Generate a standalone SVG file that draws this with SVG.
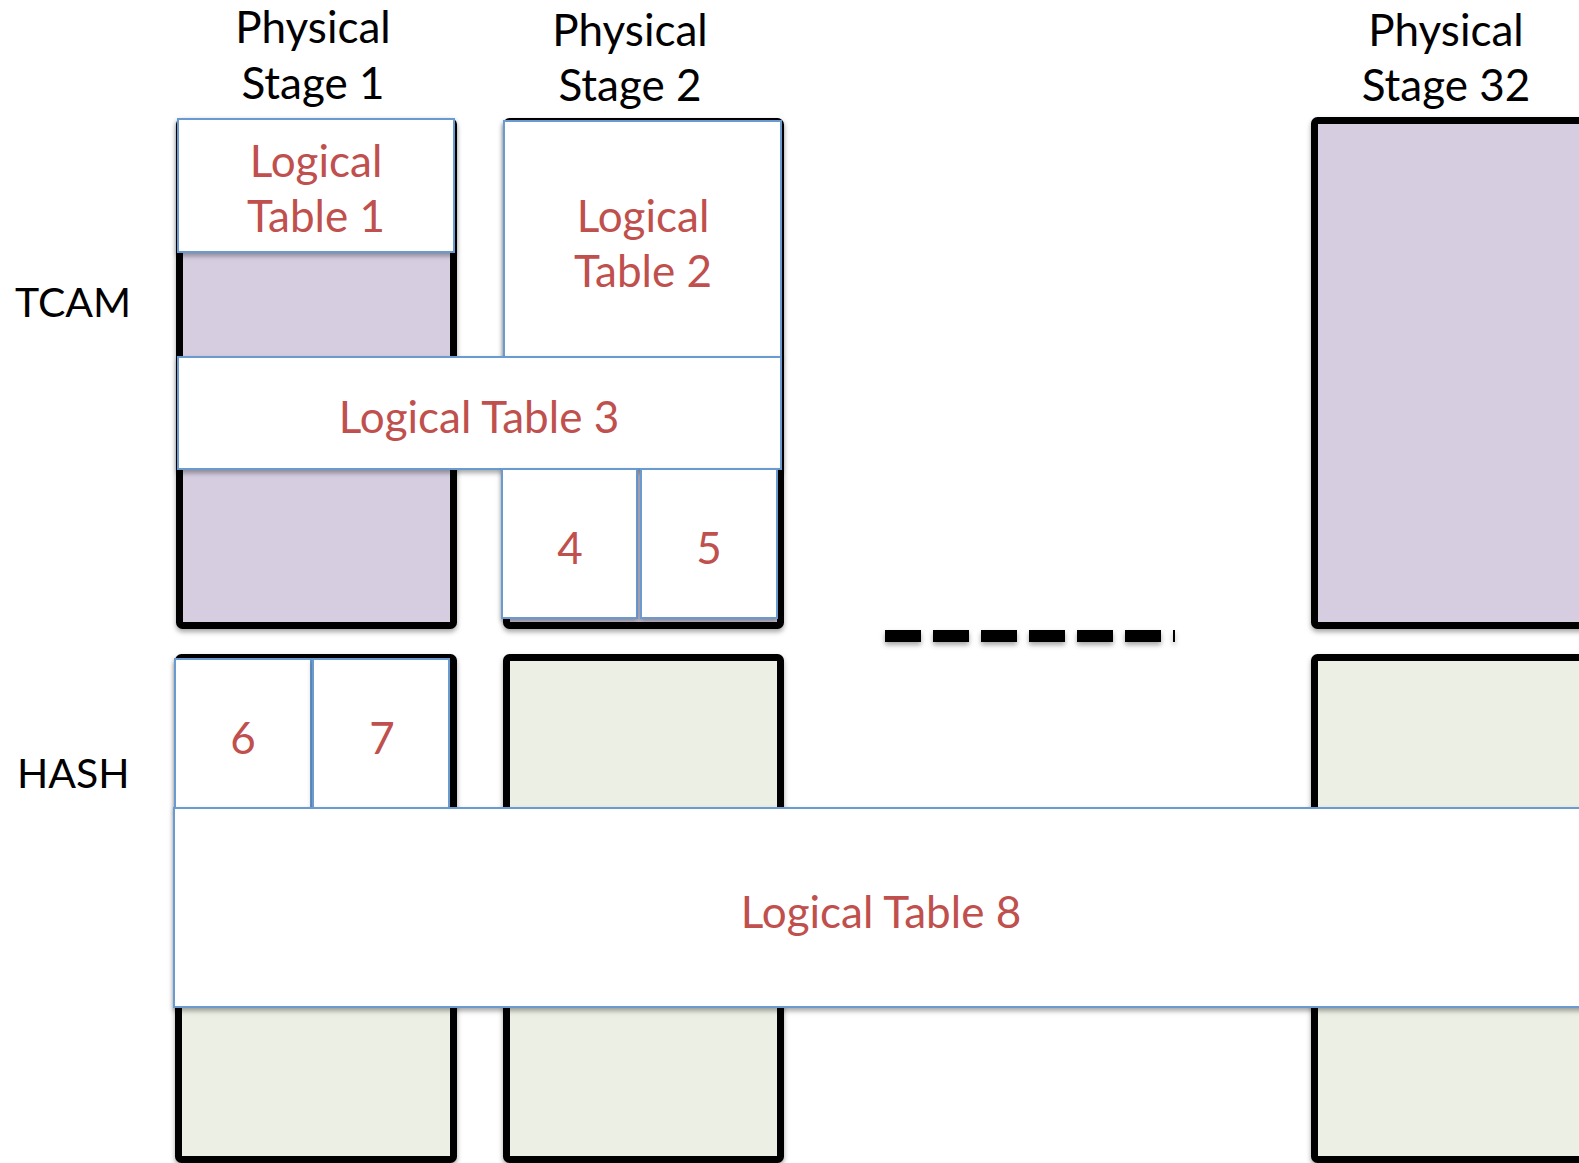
<svg xmlns="http://www.w3.org/2000/svg" width="1579" height="1163" viewBox="0 0 1579 1163">
<defs>
<filter id="sh" x="-5%" y="-5%" width="110%" height="115%">
<feDropShadow dx="0" dy="3" stdDeviation="2.5" flood-color="#000" flood-opacity="0.35"/>
</filter>
<filter id="shu" filterUnits="userSpaceOnUse" x="870" y="620" width="320" height="40">
<feDropShadow dx="0" dy="3" stdDeviation="2.5" flood-color="#000" flood-opacity="0.35"/>
</filter>
</defs>
<style>
.stage{stroke:#000;stroke-width:7;}
.tcam{fill:#D6CDE1;}
.hash{fill:#ECF0E4;}
.lt{fill:#fff;stroke:#6B9BD0;stroke-width:2;}
.hd{font-family:Lato,"Liberation Sans",sans-serif;font-size:44px;fill:#000;text-anchor:middle;}
.rl{font-family:Lato,"Liberation Sans",sans-serif;font-size:44px;fill:#C0504D;text-anchor:middle;}
.side{font-family:Lato,"Liberation Sans",sans-serif;font-size:41px;fill:#000;}
</style>
<rect width="1579" height="1163" fill="#fff"/>

<g id="labels">
<text class="hd" x="313" y="43">Physical</text>
<text class="hd" x="313" y="99">Stage 1</text>
<text class="hd" x="630" y="46">Physical</text>
<text class="hd" x="630" y="101">Stage 2</text>
<text class="hd" x="1446" y="46">Physical</text>
<text class="hd" x="1446" y="101">Stage 32</text>
<text class="side" x="15" y="317">TCAM</text>
<text class="side" x="17" y="788">HASH</text>
</g>

<g id="stage1-tcam"><rect class="stage tcam" x="179.5" y="121.5" width="274" height="504" rx="3" filter="url(#sh)"/></g>
<g id="stage2-tcam"><rect class="stage tcam" x="506.5" y="121.5" width="274" height="504" rx="3" filter="url(#sh)"/></g>
<g id="stage32-tcam"><rect class="stage tcam" x="1314.5" y="120.5" width="300" height="505" rx="3" filter="url(#sh)"/></g>
<g id="stage1-hash"><rect class="stage hash" x="178.5" y="657.5" width="275" height="502" rx="3" filter="url(#sh)"/></g>
<g id="stage2-hash"><rect class="stage hash" x="506.5" y="657.5" width="274" height="502" rx="3" filter="url(#sh)"/></g>
<g id="stage32-hash"><rect class="stage hash" x="1314.5" y="657.5" width="300" height="502" rx="3" filter="url(#sh)"/></g>

<g id="ellipsis"><line x1="885" y1="636" x2="1175" y2="636" stroke="#000" stroke-width="12" stroke-dasharray="36 12" filter="url(#shu)"/></g>

<g id="lt1"><rect class="lt" x="178" y="119" width="276" height="133" filter="url(#sh)"/>
<text class="rl" x="316" y="177">Logical</text><text class="rl" x="316" y="232">Table 1</text></g>
<g id="lt2"><rect class="lt" x="504" y="121" width="277" height="236" filter="url(#sh)"/>
<text class="rl" x="643" y="232">Logical</text><text class="rl" x="643" y="287">Table 2</text></g>
<g id="lt3"><rect class="lt" x="178" y="357" width="603" height="112" filter="url(#sh)"/>
<text class="rl" x="479" y="433">Logical Table 3</text></g>
<g id="lt4"><rect class="lt" x="502" y="469" width="135" height="149" filter="url(#sh)"/>
<text class="rl" x="570" y="564">4</text></g>
<g id="lt5"><rect class="lt" x="641" y="469" width="136" height="149" filter="url(#sh)"/>
<text class="rl" x="709" y="564">5</text></g>
<g id="lt6"><rect class="lt" x="175" y="659" width="136" height="149" filter="url(#sh)"/>
<text class="rl" x="243" y="754">6</text></g>
<g id="lt7"><rect class="lt" x="313" y="659" width="136" height="149" filter="url(#sh)"/>
<text class="rl" x="382" y="754">7</text></g>
<g id="lt8"><rect class="lt" x="174" y="808" width="1420" height="199" filter="url(#sh)"/>
<text class="rl" x="881" y="928">Logical Table 8</text></g>

<g id="connectors"></g>
</svg>
